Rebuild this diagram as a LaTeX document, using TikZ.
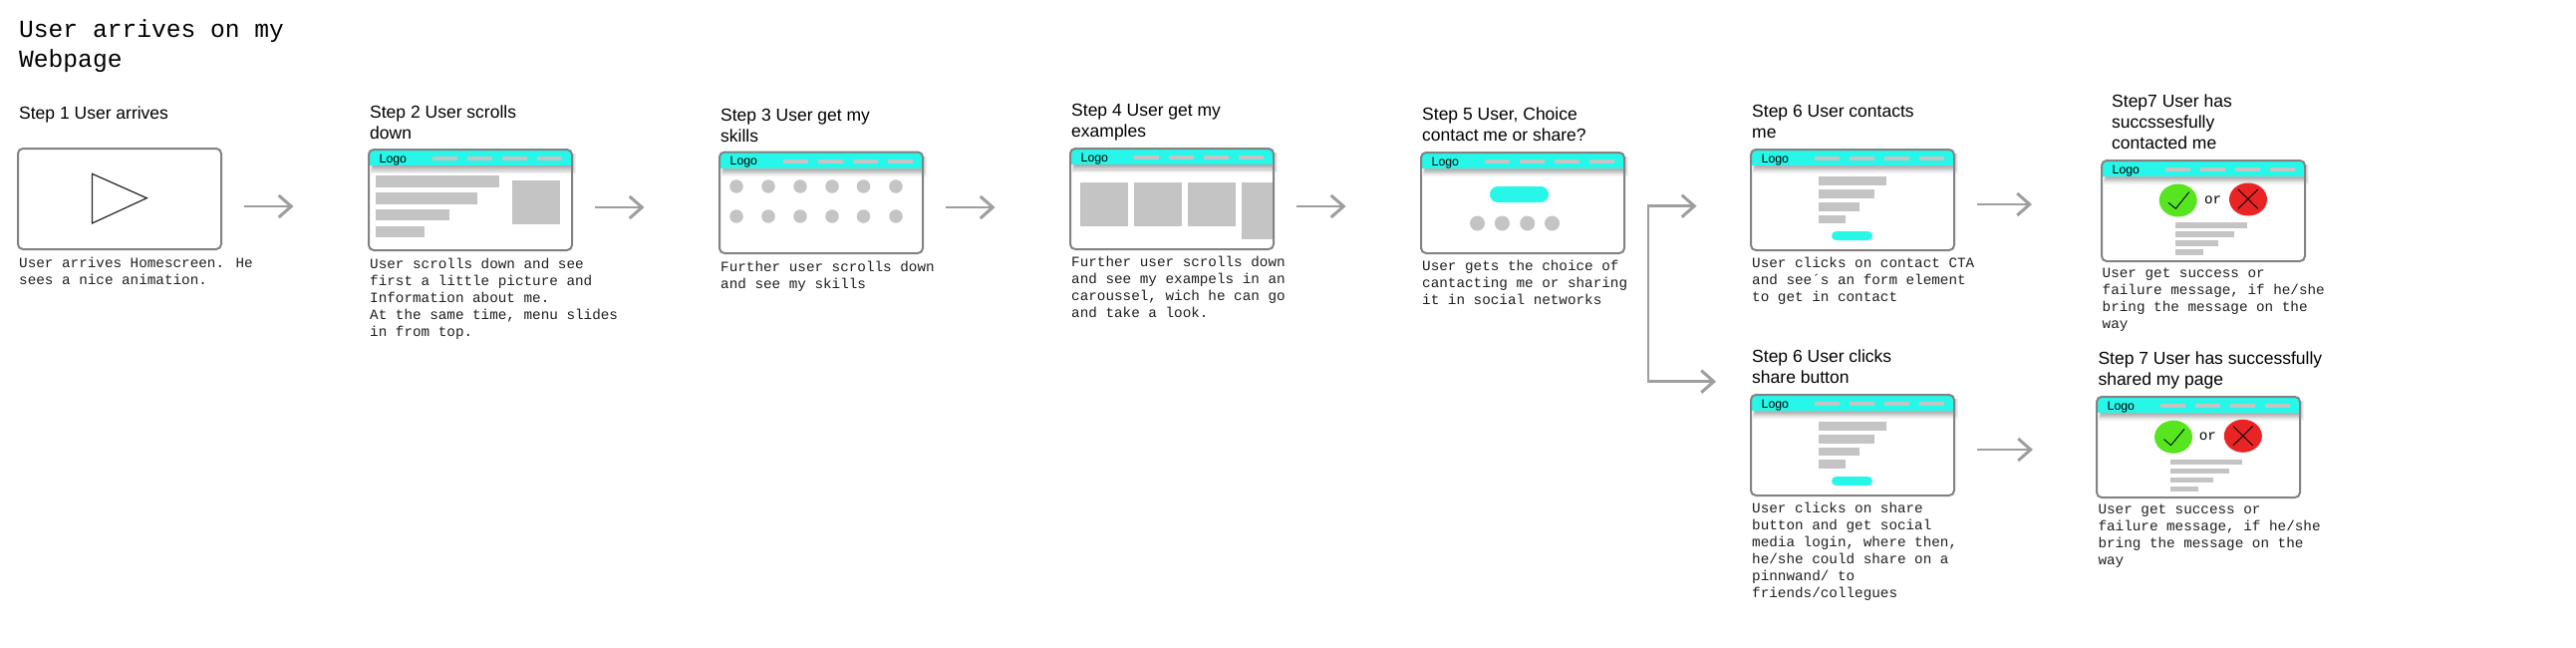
\documentclass[tikz,border=0pt]{standalone}
\usepackage{fontspec}
\setmainfont{Liberation Sans}
\newfontfamily\monof{Liberation Mono}
\usetikzlibrary{arrows.meta,shapes.geometric}
\definecolor{teal1}{HTML}{27F7E8}
\definecolor{bar1}{HTML}{C4C4C4}
\definecolor{edge1}{HTML}{828282}
\definecolor{flow1}{HTML}{9E9E9E}
\definecolor{ok1}{HTML}{56E51F}
\definecolor{bad1}{HTML}{E82424}
\tikzset{
  title1/.style={anchor=north west,inner sep=0pt,align=left,yshift=18pt,font=\monof\fontsize{24.6}{30}\selectfont,execute at begin node=\strut},
  head1/.style={anchor=north west,inner sep=0pt,align=left,yshift=13.2pt,font=\fontsize{17.5}{21}\selectfont,execute at begin node=\strut},
  body1/.style={anchor=north west,inner sep=0pt,align=left,yshift=11.9pt,text=black!88,font=\monof\fontsize{14.3}{17}\selectfont,execute at begin node=\strut},
  logo1/.style={anchor=base west,inner sep=0pt,font=\fontsize{12.3}{14}\selectfont},
  orword/.style={inner sep=0pt,font=\monof\fontsize{14.3}{17}\selectfont},
  wirebox/.style={draw=edge1,line width=2pt,rounded corners=5pt,inner sep=0pt},
  plainbox/.style={draw=edge1,line width=2pt,rounded corners=5pt,inner sep=0pt,fill=white},
  barfill/.style={fill=bar1,draw=none},
  ctafill/.style={fill=teal1,draw=none,rounded corners=4.5pt},
  dotfill/.style={fill=bar1,draw=none},
  flow/.style={draw=flow1,line width=2.8pt,-{Straight Barb[length=12.5pt,width=22pt,line width=3pt]}},
  okdot/.style={fill=ok1,draw=none},
  baddot/.style={fill=bad1,draw=none},
  tick1/.style={draw=black,line width=0.9pt}
}
% #1 name, #2 x1, #3 y1, #4 x2, #5 y2, #6 height of the band
\newcommand{\wire}[6]{%
  \pgfmathsetmacro{\wW}{#4-#2}\pgfmathsetmacro{\wH}{#5-#3}%
  \pgfmathsetmacro{\wB}{#3+#6}%
  \fill[white,rounded corners=5pt] (#2,#3) rectangle (#4,#5);
  \foreach \o in {0,1,...,6}{
    \fill[black,opacity=0.055] (#2+2+\o*0.4,#3+4) rectangle (#4+4-\o,\wB+8-\o*1.2);
  }
  \begin{scope}
    \clip[rounded corners=5pt] (#2,#3) rectangle (#4,#5);
    \fill[teal1] (#2,#3) rectangle (#4,\wB);
  \end{scope}
  \node[wirebox,minimum width=\wW pt,minimum height=\wH pt] (#1) at ({(#2+#4)/2},{(#3+#5)/2}) {};
  \node[logo1] (#1logo) at (#2+10.5,#3+13) {Logo};
  \foreach \d in {64,99,134,169}{
    \fill[bar1] (#2+\d,#3+7) rectangle (#2+\d+25,#3+11);
  }
}
\newcommand{\bars}[9]{%
  % #1 x, #2-#5 right ends, #6 top, #7 height, #8 pitch, #9 tag
  \node[barfill,inner sep=0pt,minimum width={(#2-#1)*1pt},minimum height=#7 pt,anchor=north west] (#9a) at (#1,#6) {};
  \node[barfill,inner sep=0pt,minimum width={(#3-#1)*1pt},minimum height=#7 pt,anchor=north west] (#9b) at (#1,#6+#8) {};
  \node[barfill,inner sep=0pt,minimum width={(#4-#1)*1pt},minimum height=#7 pt,anchor=north west] (#9c) at (#1,#6+2*#8) {};
  \node[barfill,inner sep=0pt,minimum width={(#5-#1)*1pt},minimum height=#7 pt,anchor=north west] (#9d) at (#1,#6+3*#8) {};
}
\newcommand{\spot}[4]{\node[dotfill,circle,inner sep=0pt,minimum size=#4 pt] (#1) at (#2,#3) {};}
\begin{document}
\begin{tikzpicture}[x=1pt,y=-1pt]
\useasboundingbox[fill=white] (0,0) rectangle (2585,650);

\node[title1] (t0) at (19,37.7) {User arrives on my\\Webpage};

% Step 1
\node[head1] (h1) at (19,118) {Step 1 User arrives};
\node[plainbox,minimum width=204pt,minimum height=101pt] (s1) at (120,199.5) {};
\draw[black!85,line width=1.2pt,line join=miter] (92.4,174.3) -- (147.3,198.7) -- (92.4,224) -- cycle;
\node[body1] (b1) at (19,270) {User arrives Homescreen. He\\sees a nice animation.};

% Step 2
\node[head1] (h2) at (371,119.3) {Step 2 User scrolls\\down};
\wire{s2}{370}{150}{574}{251}{16}
\bars{377}{501}{479}{451}{426}{176}{11.5}{16.8}{sb}
\node[barfill,inner sep=0pt,minimum width=48pt,minimum height=44pt,anchor=north west] (s2img) at (514,181) {};
\node[body1] (b2) at (371,270.7) {User scrolls down and see\\first a little picture and\\Information about me.\\At the same time, menu slides\\in from top.};

% Step 3
\node[head1] (h3) at (723,122.3) {Step 3 User get my\\skills};
\wire{s3}{722}{152.5}{926}{254}{16}
\spot{c1}{739}{187}{13.5}\spot{c2}{771}{187}{13.5}\spot{c3}{803}{187}{13.5}\spot{c4}{835}{187}{13.5}\spot{c5}{866.5}{187}{13.5}\spot{c6}{899}{187}{13.5}
\spot{d1}{739}{217}{13.5}\spot{d2}{771}{217}{13.5}\spot{d3}{803}{217}{13.5}\spot{d4}{835}{217}{13.5}\spot{d5}{866.5}{217}{13.5}\spot{d6}{899}{217}{13.5}
\node[body1] (b3) at (723,274) {Further user scrolls down\\and see my skills};

% Step 4
\node[head1] (h4) at (1075,117.3) {Step 4 User get my\\examples};
\wire{s4}{1074}{149}{1278}{250}{16}
\node[barfill,inner sep=0pt,minimum width=48pt,minimum height=44pt,anchor=north west] (i1) at (1084,183) {};
\node[barfill,inner sep=0pt,minimum width=48pt,minimum height=44pt,anchor=north west] (i2) at (1138,183) {};
\node[barfill,inner sep=0pt,minimum width=48pt,minimum height=44pt,anchor=north west] (i3) at (1192,183) {};
\node[barfill,inner sep=0pt,minimum width=31pt,minimum height=57pt,anchor=north west] (i4) at (1246,183) {};
\node[body1] (b4) at (1075,269) {Further user scrolls down\\and see my exampels in an\\caroussel, wich he can go\\and take a look.};

% Step 5
\node[head1] (h5) at (1427,121.3) {Step 5 User, Choice\\contact me or share?};
\wire{s5}{1426}{153}{1630}{254}{15.5}
\node[ctafill,rounded corners=8pt,inner sep=0pt,minimum width=59pt,minimum height=16pt] (s5cta) at (1524.5,195) {};
\spot{e1}{1482.5}{224}{15}\spot{e2}{1507.4}{224}{15}\spot{e3}{1532.7}{224}{15}\spot{e4}{1557.5}{224}{15}
\node[body1] (b5) at (1427,273) {User gets the choice of\\cantacting me or sharing\\it in social networks};

% Step 6 contact
\node[head1] (h6) at (1758,118.3) {Step 6 User contacts\\me};
\wire{s6}{1757}{150}{1961}{251}{15.5}
\bars{1825}{1893}{1881}{1865.5}{1851.5}{177}{8.7}{12.8}{sc}
\node[ctafill,inner sep=0pt,minimum width=41pt,minimum height=9pt] (s6cta) at (1858.5,236.5) {};
\node[body1] (b6) at (1758,269.7) {User clicks on contact CTA\\and see´s an form element\\to get in contact};

% Step 6 share
\node[head1] (h6b) at (1758,364.3) {Step 6 User clicks\\share button};
\wire{s6b}{1757}{396}{1961}{497}{15.5}
\bars{1825}{1893}{1881}{1865.5}{1851.5}{423}{8.7}{12.7}{sd}
\node[ctafill,inner sep=0pt,minimum width=41pt,minimum height=9pt] (s6bcta) at (1858.5,482.5) {};
\node[body1] (b6b) at (1758,516) {User clicks on share\\button and get social\\media login, where then,\\he/she could share on a\\pinnwand/ to\\friends/collegues};

% Step 7 contact
\node[head1] (h7) at (2119,107.7) {Step7 User has\\succssesfully\\contacted me};
\wire{s7}{2109}{161}{2313}{262}{15.5}
\node[okdot,ellipse,inner sep=0pt,minimum width=38pt,minimum height=33pt] (s7ok) at (2185.7,201) {};
\draw[tick1] (2176,203.3) -- (2183.3,209.3) -- (2196.7,192.7);
\node[baddot,ellipse,inner sep=0pt,minimum width=38pt,minimum height=33pt] (s7bad) at (2256,200) {};
\draw[tick1] (2246,190) -- (2265.7,209.3) (2265.7,190) -- (2246,209.3);
\node[orword] (s7or) at (2220.7,201) {or};
\bars{2183}{2255}{2242}{2226}{2211}{223}{6}{9}{se}
\node[body1] (b7) at (2109.5,281) {User get success or\\failure message, if he/she\\bring the message on the\\way};

% Step 7 share
\node[head1] (h7b) at (2105.3,366) {Step 7 User has successfully\\shared my page};
\wire{s7b}{2104}{398}{2308}{499}{15.5}
\node[okdot,ellipse,inner sep=0pt,minimum width=38pt,minimum height=33pt] (s7bok) at (2181,438.3) {};
\draw[tick1] (2171.5,440.6) -- (2178.5,446.6) -- (2192,430.3);
\node[baddot,ellipse,inner sep=0pt,minimum width=38pt,minimum height=33pt] (s7bbad) at (2250.8,437.3) {};
\draw[tick1] (2241,427.5) -- (2260.5,446.8) (2260.5,427.5) -- (2241,446.8);
\node[orword] (s7bor) at (2215.4,438) {or};
\bars{2178}{2250}{2237}{2220.7}{2206}{460.3}{5.8}{9}{sf}
\node[body1] (b7b) at (2105.3,518) {User get success or\\failure message, if he/she\\bring the message on the\\way};

% Connectors
\coordinate (a1s) at (245,207);   \coordinate (a1e) at (294.5,207);
\coordinate (a2s) at (597,208);   \coordinate (a2e) at (646.5,208);
\coordinate (a3s) at (949,208);   \coordinate (a3e) at (998.5,208);
\coordinate (a4s) at (1301,207);  \coordinate (a4e) at (1350.5,207);
\coordinate (a5m) at (1654,295);
\coordinate (a5j) at (1654,206.7);\coordinate (a5e) at (1702.5,206.7);
\coordinate (a6j) at (1654,382.7);\coordinate (a6e) at (1722,382.7);
\coordinate (a7s) at (1984,205);  \coordinate (a7e) at (2039,205);
\coordinate (a8s) at (1984,451);  \coordinate (a8e) at (2040,451);
\draw[flow] (a1s) -- (a1e);
\draw[flow] (a2s) -- (a2e);
\draw[flow] (a3s) -- (a3e);
\draw[flow] (a4s) -- (a4e);
\draw[flow,line join=miter] (a5m) -- (a5j) -- (a5e);
\draw[flow,line join=miter] (a5m) -- (a6j) -- (a6e);
\draw[flow] (a7s) -- (a7e);
\draw[flow] (a8s) -- (a8e);
\end{tikzpicture}
\end{document}
